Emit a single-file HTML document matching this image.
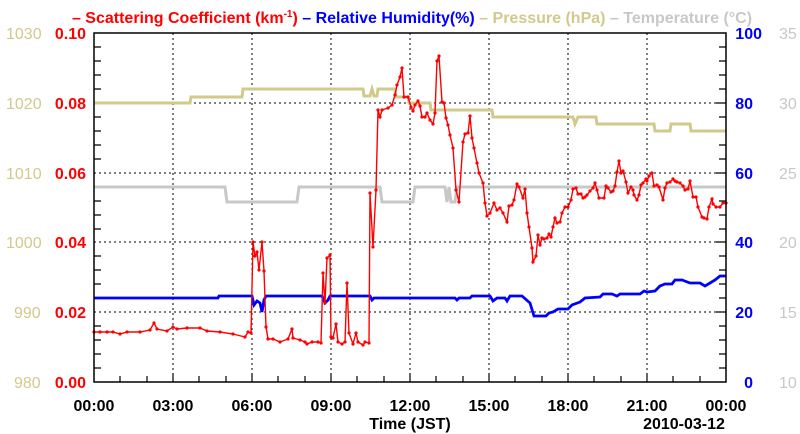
<!DOCTYPE html>
<html><head><meta charset="utf-8"><style>
body{margin:0;background:#fff}
svg{display:block;font-family:"Liberation Sans",sans-serif}
.b{font-weight:bold}
</style></head><body>
<svg width="800" height="434" xmlns="http://www.w3.org/2000/svg">
<defs>
<marker id="d" markerUnits="userSpaceOnUse" markerWidth="4" markerHeight="4" refX="2" refY="2"><circle cx="2" cy="2" r="1.6" fill="#ff0000"/></marker>
</defs>
<rect width="800" height="434" fill="#fff"/>
<text x="412" y="23" text-anchor="middle" font-size="16" class="b"><tspan fill="#ff0000">– Scattering Coefficient (km<tspan font-size="10" dy="-6">-1</tspan><tspan dy="6">)</tspan></tspan><tspan fill="#0000ff"> – Relative Humidity(%)</tspan><tspan fill="#d2c98c"> – Pressure (hPa)</tspan><tspan fill="#c8c8c8"> – Temperature (°C)</tspan></text>
<g stroke="#000" stroke-width="1" stroke-dasharray="2,3">
<line x1="173" y1="33" x2="173" y2="382"/><line x1="252" y1="33" x2="252" y2="382"/>
<line x1="331" y1="33" x2="331" y2="382"/><line x1="410" y1="33" x2="410" y2="382"/>
<line x1="489" y1="33" x2="489" y2="382"/><line x1="568" y1="33" x2="568" y2="382"/>
<line x1="647" y1="33" x2="647" y2="382"/>
<line x1="94" y1="103" x2="726" y2="103"/><line x1="94" y1="173" x2="726" y2="173"/>
<line x1="94" y1="242" x2="726" y2="242"/><line x1="94" y1="312" x2="726" y2="312"/>
</g>
<g stroke="#000" stroke-width="1.2">
<path d="M94,47h7M94,61h7M94,75h7M94,89h7M94,117h7M94,131h7M94,145h7M94,159h7M94,187h7M94,201h7M94,215h7M94,229h7M94,256h7M94,270h7M94,284h7M94,298h7M94,326h7M94,340h7M94,354h7M94,368h7"/>
<path d="M726,47h-7M726,61h-7M726,75h-7M726,89h-7M726,103h-10M726,117h-7M726,131h-7M726,145h-7M726,159h-7M726,173h-10M726,187h-7M726,201h-7M726,215h-7M726,229h-7M726,242h-10M726,256h-7M726,270h-7M726,284h-7M726,298h-7M726,312h-10M726,326h-7M726,340h-7M726,354h-7M726,368h-7"/>
<path d="M120,382v-6M147,382v-6M173,382v-9M199,382v-6M226,382v-6M252,382v-9M278,382v-6M305,382v-6M331,382v-9M357,382v-6M384,382v-6M410,382v-9M436,382v-6M463,382v-6M489,382v-9M515,382v-6M542,382v-6M568,382v-9M594,382v-6M621,382v-6M647,382v-9M673,382v-6M700,382v-6"/>
</g>
<polyline fill="none" stroke="#c8c8c8" stroke-width="3" points="94,187 225,187 227,202 297,202 299,187 380,187 382,202 413,202 415,187 445,187 447,202 449,187 451,202 455,202 457,187 726,187"/>
<polyline fill="none" stroke="#d2c98c" stroke-width="3" points="94,103 190,103 191,97 242,97 243,89 363,89 364,96 370,96 372,89 374,96 377,96 378,89 395,89 396,97 408,97 409,103 430,103 431,110 492,110 493,117 573,117 575,124 578,117 596,117 597,124 654,124 655,131 670,131 671,124 690,124 691,131 726,131"/>
<polyline fill="none" stroke="#0000ff" stroke-width="2.8" points="94,298 218,298 219,296 252,296 254,305 257,301 260,303 262,312 264,300 266,296 322,296 325,303 328,300 330,296 370,296 372,300 374,298 455,298 457,300 459,298 470,298 472,296 480,296 490,296 493,301 497,298 505,298 507,301 510,296 522,296 530,303 534,316 546,316 549,313 553,312 558,309 568,309 572,305 580,302 585,298 600,297 603,294 612,294 617,296 620,294 640,294 644,291 647,292 655,291 660,286 665,284 672,284 675,280 682,280 690,283 700,283 705,286 710,283 715,280 720,276 726,276"/>
<polyline fill="none" stroke="#ff0000" stroke-width="1.4" marker-start="url(#d)" marker-mid="url(#d)" marker-end="url(#d)" points="94,332 100,332 107,332 113,332 120,334 127,332 140,332 150,330 154,323 157,329 167,331 173,327 177,329 187,328 200,328 207,331 220,332 233,334 245,337 248,332 251,333 253,242 255,256 257,252 259,270 262,242 264,271 266,327 268,339 273,339 280,342 288,339 292,329 293,338 300,340 305,342 307,344 312,342 318,342 321,343 323,273 325,303 327,258 330,255 331,337 333,338 336,324 338,342 342,344 345,342 347,283 349,333 353,344 356,333 358,342 363,345 365,342 369,343 370,193 373,247 376,190 378,110 380,117 382,110 388,108 392,105 395,95 397,85 400,77 402,68 404,97 408,97 411,107 413,111 415,105 418,101 420,106 422,117 425,117 427,113 430,120 433,124 435,113 437,61 439,56 442,102 444,103 446,118 448,125 450,135 453,148 456,190 459,202 463,142 465,134 468,133 470,116 472,138 474,148 477,163 479,173 483,183 485,203 487,216 490,213 494,203 497,210 500,208 503,213 507,222 509,206 512,205 514,200 517,184 519,187 523,198 525,189 527,213 529,227 532,248 533,262 536,256 538,235 540,245 542,238 544,239 547,238 549,234 551,237 553,227 555,218 557,223 560,222 562,213 565,207 568,207 571,200 573,189 576,188 578,194 581,194 583,198 585,197 587,195 590,191 593,188 595,183 597,190 599,198 604,198 606,186 608,188 611,192 613,191 615,186 617,172 619,161 621,173 623,171 626,182 628,193 631,187 633,190 634,195 637,200 639,195 641,185 643,183 646,179 647,181 649,176 652,173 654,186 657,185 659,187 663,200 665,188 667,183 670,182 673,179 675,181 677,182 680,183 683,186 685,190 688,189 690,181 693,197 696,197 698,207 702,217 704,218 707,219 709,207 712,199 713,204 716,207 720,207 723,203 726,203"/>
<rect x="94" y="33" width="632" height="349" fill="none" stroke="#000" stroke-width="1.5"/>
<g font-size="16" fill="#d2c98c">
<text x="6" y="39">1030</text><text x="6" y="109">1020</text><text x="6" y="179">1010</text><text x="6" y="248">1000</text><text x="14" y="318">990</text><text x="14" y="388">980</text>
</g>
<g font-size="16" fill="#ff0000" class="b" text-anchor="end">
<text x="86" y="39">0.10</text><text x="86" y="109">0.08</text><text x="86" y="179">0.06</text><text x="86" y="248">0.04</text><text x="86" y="318">0.02</text><text x="86" y="388">0.00</text>
</g>
<g font-size="16" fill="#0000ff" class="b" text-anchor="end">
<text x="762" y="39">100</text><text x="753" y="109">80</text><text x="753" y="179">60</text><text x="753" y="248">40</text><text x="753" y="318">20</text><text x="753" y="388">0</text>
</g>
<g font-size="16" fill="#c8c8c8">
<text x="779" y="39">35</text><text x="779" y="109">30</text><text x="779" y="179">25</text><text x="779" y="248">20</text><text x="779" y="318">15</text><text x="779" y="388">10</text>
</g>
<g font-size="16" class="b" text-anchor="middle" fill="#000">
<text x="94" y="411">00:00</text><text x="173" y="411">03:00</text><text x="252" y="411">06:00</text><text x="331" y="411">09:00</text><text x="410" y="411">12:00</text><text x="489" y="411">15:00</text><text x="568" y="411">18:00</text><text x="647" y="411">21:00</text><text x="726" y="411">00:00</text>
<text x="410" y="429">Time (JST)</text>
<text x="684" y="429">2010-03-12</text>
</g>
</svg>
</body></html>
